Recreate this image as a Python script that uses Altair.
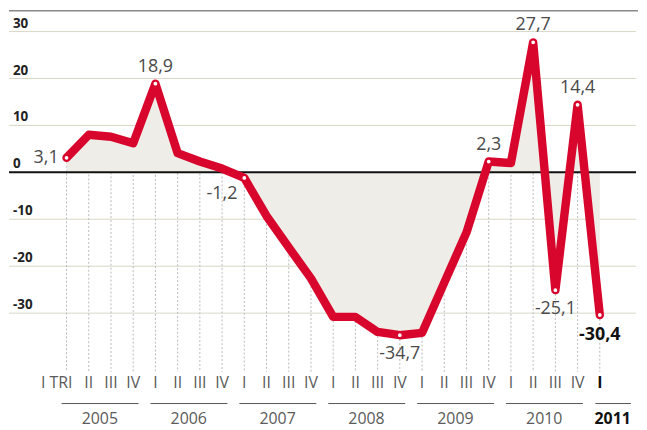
import altair as alt
import pandas as pd

# ---- data ----
quarter_labels = ["I TRI", "II", "III", "IV"] + ["I", "II", "III", "IV"] * 5 + ["I"]
quarter_years = [y for y in ["2005", "2006", "2007", "2008", "2009", "2010"] for _ in range(4)] + ["2011"]
values = [3.1, 8.0, 7.6, 6.2,
          18.9, 4.1, 2.3, 0.8,
          -1.2, -9.3, -16.0, -22.6,
          -30.8, -30.8, -34.0, -34.7,
          -34.2, -23.5, -12.8, 2.3,
          2.0, 27.7, -25.1, 14.4,
          -30.4]
y_ticks = [30, 20, 10, 0, -10, -20, -30]
labels_left = [0]
labels_above = [4, 19, 21, 23]
labels_below = [15, 22]
labels_below_left = [8]
label_last = [24]

W, H = 632, 364
RED = "#d8062c"
FONT = "Open Sans"

df = pd.DataFrame({"i": list(range(len(values))), "v": values,
                   "q": quarter_labels, "yr": quarter_years})
df["lbl"] = df["v"].map(lambda v: f"{v:.1f}".replace(".", ","))

yrs = df.groupby("yr")["i"].agg(["min", "max"]).reset_index()
yrs["mid"] = (yrs["min"] + yrs["max"]) / 2
yrs["x1"] = yrs["min"] - 0.22
yrs["x2"] = yrs["max"] + 0.24
last_year = yrs["yr"] == "2011"
yrs.loc[last_year, "mid"] = yrs.loc[last_year, "min"] + 0.58
yrs.loc[last_year, "x1"] = yrs.loc[last_year, "min"] - 0.2
yrs.loc[last_year, "x2"] = yrs.loc[last_year, "min"] + 1.4

ticks = pd.DataFrame({"v": y_ticks, "t": [str(t) for t in y_ticks]})

xs = alt.Scale(domain=[-2.59, 25.63], nice=False, zero=False)
ys = alt.Scale(domain=[-42.5, 34.46], nice=False, zero=False)
X = alt.X("i:Q", scale=xs, axis=None)
Y = alt.Y("v:Q", scale=ys, axis=None)

base = alt.Chart(df)

top_line = alt.Chart(ticks.head(1)).mark_rule(color="#8a8a8a", strokeWidth=1.5).encode(
    y=alt.value(0), x=alt.value(0), x2=alt.value(W + 2))

grid = alt.Chart(ticks).transform_filter("datum.v != 0").mark_rule(
    color="#d9d7c6", strokeWidth=1).encode(y=Y, x=alt.value(0), x2=alt.value(W))

tick_text = alt.Chart(ticks).mark_text(
    align="left", baseline="alphabetic", dy=-4, font=FONT, fontSize=13.5,
    fontWeight="bold", color="#222222").encode(x=alt.value(4), y=Y, text="t:N")

vlines = base.mark_rule(color="#b9b9b9", strokeWidth=1, strokeDash=[2, 2]).encode(
    x=X, y=Y, y2=alt.value(H))

area = base.mark_area(color="#eeede7", opacity=1).encode(x=X, y=Y, y2=alt.datum(0))

zero = alt.Chart(ticks).transform_filter("datum.v == 0").mark_rule(
    color="#111111", strokeWidth=2).encode(y=Y, x=alt.value(0), x2=alt.value(W))

line = base.mark_line(color=RED, strokeWidth=8.5, strokeJoin="round", strokeCap="round").encode(
    x=X, y=Y)

pts_idx = labels_left + labels_above + labels_below + labels_below_left + label_last
points = base.transform_filter(alt.FieldOneOfPredicate(field="i", oneOf=pts_idx)).mark_point(
    filled=True, fill="white", stroke=RED, strokeWidth=1.5, size=28, opacity=1).encode(x=X, y=Y)


def lbl_layer(idx, **kw):
    style = dict(font=FONT, fontSize=18, color="#4a4a4a")
    style.update(kw)
    return base.transform_filter(alt.FieldOneOfPredicate(field="i", oneOf=idx)).mark_text(
        **style).encode(x=X, y=Y, text="lbl:N")


t_left = lbl_layer(labels_left, align="right", baseline="middle", dx=-8)
t_above = lbl_layer(labels_above, align="center", baseline="middle", dy=-17)
t_below = lbl_layer(labels_below, align="center", baseline="middle", dy=19)
t_below_left = lbl_layer(labels_below_left, align="right", baseline="middle", dx=-7, dy=16)
t_last = lbl_layer(label_last, align="center", baseline="middle", dy=20,
                   fontWeight="bold", color="#111111")

QY = 375
QCOL = "#5a5a5a"
q_first = base.transform_filter("datum.i == 0").mark_text(
    align="right", baseline="middle", dx=6, font=FONT, fontSize=16, color=QCOL).encode(
    x=X, y=alt.value(QY), text="q:N")
q_mid = base.transform_filter("datum.i > 0 && datum.i < 24").mark_text(
    align="center", baseline="middle", font=FONT, fontSize=16, color=QCOL).encode(
    x=X, y=alt.value(QY), text="q:N")
q_last = base.transform_filter("datum.i == 24").mark_text(
    align="center", baseline="middle", font=FONT, fontSize=16, fontWeight="bold",
    color="#111111").encode(x=X, y=alt.value(QY), text="q:N")

yr_rules = alt.Chart(yrs).mark_rule(color="#555555", strokeWidth=1).encode(
    x=alt.X("x1:Q", scale=xs, axis=None), x2="x2:Q", y=alt.value(396))
yr_text = alt.Chart(yrs).transform_filter("datum.yr != '2011'").mark_text(
    align="center", baseline="middle", font=FONT, fontSize=16, color=QCOL).encode(
    x=alt.X("mid:Q", scale=xs, axis=None), y=alt.value(412), text="yr:N")
yr_last = alt.Chart(yrs).transform_filter("datum.yr == '2011'").mark_text(
    align="center", baseline="middle", font=FONT, fontSize=16, fontWeight="bold",
    color="#111111").encode(
    x=alt.X("mid:Q", scale=xs, axis=None), y=alt.value(412), text="yr:N")

chart = alt.layer(
    top_line, grid, vlines, area, zero, tick_text, line, points,
    t_left, t_above, t_below, t_below_left, t_last,
    q_first, q_mid, q_last, yr_rules, yr_text, yr_last
).properties(width=W, height=H, padding=0).configure_view(stroke=None)

chart.save("out.html", embed_options={"renderer": "svg", "actions": False})
